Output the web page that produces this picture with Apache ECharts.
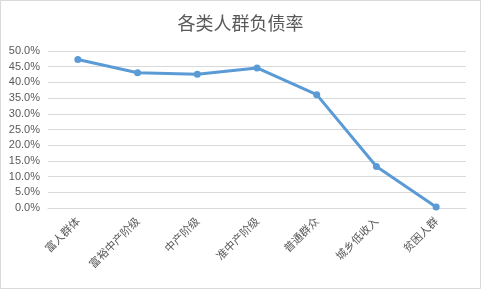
<!DOCTYPE html>
<html>
<head>
<meta charset="utf-8">
<script src="https://cdn.jsdelivr.net/npm/echarts@6/dist/echarts.min.js"></script>
<style>
html,body{margin:0;padding:0;background:#fff;}
#c{width:481px;height:289px;}
</style>
</head>
<body>
<div id="c"></div>
<script>
var titleText = '各类人群负债率';
var categories = ['富人群体', '富裕中产阶级', '中产阶级', '准中产阶级', '普通群众', '城乡低收入', '贫困人群'];
var debtRatio = [0.473, 0.431, 0.426, 0.446, 0.361, 0.132, 0.003];

var chart = echarts.init(document.getElementById('c'), null, {renderer: 'canvas'});
chart.setOption({
  animation: false,
  backgroundColor: '#ffffff',
  graphic: [{
    type: 'rect',
    shape: {x: 0.5, y: 0.5, width: 480, height: 288},
    style: {fill: 'none', stroke: '#d9d9d9', lineWidth: 1},
    silent: true
  }],
  title: {
    text: titleText,
    left: 'center',
    top: 9,
    textStyle: {
      fontFamily: '"Noto Sans CJK SC", sans-serif',
      fontSize: 18,
      fontWeight: 'normal',
      color: '#595959'
    }
  },
  grid: {left: 48, right: 15, top: 51, bottom: 81, containLabel: false},
  xAxis: {
    type: 'category',
    data: categories,
    boundaryGap: true,
    axisLine: {show: true, lineStyle: {color: '#d9d9d9', width: 1}},
    axisTick: {show: false},
    axisLabel: {
      rotate: 45,
      interval: 0,
      margin: 11,
      fontFamily: '"Noto Sans CJK SC", sans-serif',
      fontSize: 11,
      color: '#595959'
    }
  },
  yAxis: {
    type: 'value',
    min: 0,
    max: 0.5,
    interval: 0.05,
    axisLine: {show: false},
    axisTick: {show: false},
    splitLine: {lineStyle: {color: '#d9d9d9', width: 1}},
    axisLabel: {
      margin: 8,
      fontFamily: '"Liberation Sans", Arial, sans-serif',
      fontSize: 11,
      color: '#595959',
      formatter: function (v) { return (v * 100).toFixed(1) + '%'; }
    }
  },
  series: [{
    type: 'line',
    data: debtRatio,
    symbol: 'circle',
    symbolSize: 7,
    lineStyle: {color: '#5b9bd5', width: 3},
    itemStyle: {color: '#5b9bd5'}
  }]
});
</script>
</body>
</html>
